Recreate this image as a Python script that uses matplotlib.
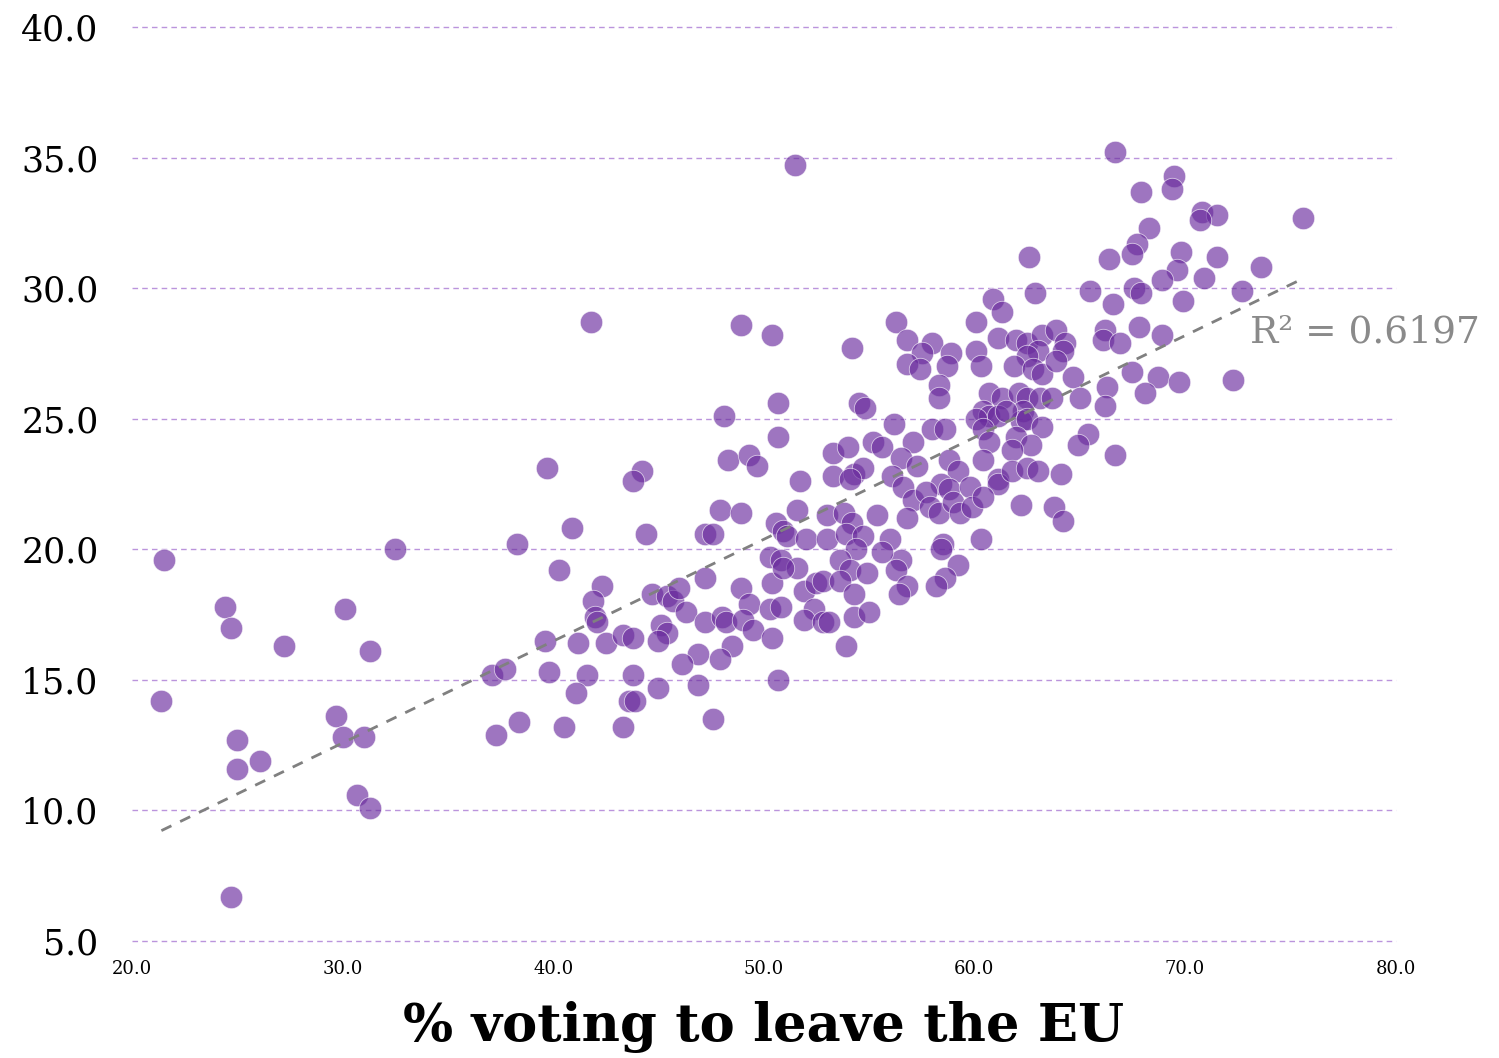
import matplotlib
matplotlib.use("Agg")
import matplotlib.pyplot as plt
import numpy as np

# % voting leave (x) vs indicator (y)
leave_pct = [
    # far left
    21.5, 21.4, 24.4, 24.7, 25.0, 25.0, 26.1, 24.7, 27.2, 30.1, 29.7, 30.0,
    31.0, 31.3, 30.7, 31.3, 32.5,
    # 37 - 48.5
    41.8, 48.1, 48.3, 39.7, 44.2, 43.8, 47.9, 47.2, 47.6, 40.9, 44.4, 38.3,
    40.3, 42.3, 41.9, 42.0, 42.1, 44.7, 45.4, 45.7, 46.0, 46.3, 47.2, 45.1,
    45.4, 45.0, 47.2, 48.0, 48.2, 39.6, 41.2, 42.5, 43.3, 43.8, 48.5, 46.9,
    47.9, 46.1, 37.1, 37.7, 39.8, 41.6, 43.8, 41.1, 45.0, 46.9, 43.6, 43.9,
    37.3, 38.4, 40.5, 43.3, 47.6,
    # 48.5 - 55.5
    48.9, 50.4, 50.7, 50.7, 49.3, 49.7, 48.9, 50.6, 48.9, 49.3, 50.3, 50.4,
    50.3, 49.0, 49.5, 50.4, 50.7, 54.2, 54.5, 54.8, 51.7, 53.3, 54.0, 53.3,
    54.3, 54.7, 55.2, 54.1, 51.6, 50.9, 51.1, 53.0, 53.8, 54.2, 55.4, 52.0,
    53.0, 53.9, 54.7, 54.4, 53.6, 54.1, 54.9, 50.8, 51.6, 50.9, 50.8, 51.9,
    52.5, 52.8, 53.6, 54.3, 52.4, 51.9, 52.8, 53.1, 54.3, 55.0, 53.9, 51.5,
    # 55.5 - 63.5
    62.6, 62.9, 60.9, 61.3, 56.3, 60.1, 56.8, 58.0, 57.5, 58.9, 56.8, 57.4,
    58.7, 60.1, 60.3, 58.3, 58.3, 61.1, 62.0, 62.5, 63.2, 63.0, 62.5, 61.9,
    62.8, 63.2, 60.7, 61.3, 62.1, 62.5, 63.1, 60.4, 60.7, 60.1, 61.1, 62.3,
    62.2, 62.5, 63.2, 60.4, 60.7, 62.0, 62.7, 61.8, 56.2, 58.0, 58.6, 55.6,
    57.1, 56.5, 57.3, 58.8, 60.4, 59.2, 56.1, 56.6, 58.4, 58.8, 59.8, 61.1,
    61.1, 61.8, 62.5, 63.0, 57.1, 57.7, 57.9, 58.3, 56.8, 59.0, 59.3, 59.9,
    60.4, 62.2, 60.3, 58.5, 58.4, 56.0, 56.5, 56.3, 59.2, 58.6, 58.2, 56.8,
    56.4, 55.6, 61.5,
    # 63.5 and up
    66.7, 69.5, 69.4, 67.9, 70.8, 71.5, 70.7, 75.6, 68.3, 67.7, 67.5, 66.4,
    69.8, 69.6, 71.5, 70.9, 73.6, 68.9, 67.6, 67.9, 65.5, 66.6, 72.7, 69.9,
    67.8, 68.9, 66.2, 66.1, 66.9, 63.9, 64.3, 64.2, 63.9, 64.7, 66.3, 67.5,
    68.7, 69.7, 72.3, 68.1, 65.0, 66.2, 63.7, 65.4, 64.9, 66.7, 64.1, 63.8,
    64.2,
]

indicator = [
    19.6, 14.2, 17.8, 17.0, 12.7, 11.6, 11.9, 6.7, 16.3, 17.7, 13.6, 12.8,
    12.8, 16.1, 10.6, 10.1, 20.0,
    28.7, 25.1, 23.4, 23.1, 23.0, 22.6, 21.5, 20.6, 20.6, 20.8, 20.6, 20.2,
    19.2, 18.6, 18.0, 17.4, 17.2, 18.3, 18.2, 18.0, 18.5, 17.6, 18.9, 17.1,
    16.8, 16.5, 17.2, 17.4, 17.2, 16.5, 16.4, 16.4, 16.7, 16.6, 16.3, 16.0,
    15.8, 15.6, 15.2, 15.4, 15.3, 15.2, 15.2, 14.5, 14.7, 14.8, 14.2, 14.2,
    12.9, 13.4, 13.2, 13.2, 13.5,
    28.6, 28.2, 25.6, 24.3, 23.6, 23.2, 21.4, 21.0, 18.5, 17.9, 19.7, 18.7,
    17.7, 17.3, 16.9, 16.6, 15.0, 27.7, 25.6, 25.4, 22.6, 23.7, 23.9, 22.8,
    22.9, 23.1, 24.1, 22.7, 21.5, 20.7, 20.5, 21.3, 21.4, 21.0, 21.3, 20.4,
    20.4, 20.6, 20.5, 20.0, 19.6, 19.2, 19.1, 19.6, 19.3, 19.3, 17.8, 18.4,
    18.7, 18.8, 18.8, 18.3, 17.7, 17.3, 17.2, 17.2, 17.4, 17.6, 16.3, 34.7,
    31.2, 29.8, 29.6, 29.1, 28.7, 28.7, 28.0, 27.9, 27.5, 27.5, 27.1, 26.9,
    27.0, 27.6, 27.0, 26.3, 25.8, 28.1, 28.0, 27.9, 28.2, 27.6, 27.4, 27.0,
    26.9, 26.7, 26.0, 25.8, 26.0, 25.8, 25.8, 25.3, 25.1, 25.0, 25.1, 25.3,
    24.9, 25.0, 24.7, 24.6, 24.1, 24.3, 24.0, 23.8, 24.8, 24.6, 24.6, 23.9,
    24.1, 23.5, 23.2, 23.4, 23.4, 23.0, 22.8, 22.4, 22.5, 22.3, 22.4, 22.7,
    22.5, 23.0, 23.1, 23.0, 21.9, 22.2, 21.6, 21.4, 21.2, 21.8, 21.4, 21.6,
    22.0, 21.7, 20.4, 20.2, 20.0, 20.4, 19.6, 19.2, 19.4, 18.9, 18.6, 18.6,
    18.3, 19.9, 25.3,
    35.2, 34.3, 33.8, 33.7, 32.9, 32.8, 32.6, 32.7, 32.3, 31.7, 31.3, 31.1,
    31.4, 30.7, 31.2, 30.4, 30.8, 30.3, 30.0, 29.8, 29.9, 29.4, 29.9, 29.5,
    28.5, 28.2, 28.4, 28.0, 27.9, 28.4, 27.9, 27.6, 27.2, 26.6, 26.2, 26.8,
    26.6, 26.4, 26.5, 26.0, 25.8, 25.5, 25.8, 24.4, 24.0, 23.6, 22.9, 21.6,
    21.1,
]

y_ticks = [5, 10, 15, 20, 25, 30, 35, 40]
x_ticks = [20, 30, 40, 50, 60, 70, 80]
# linear trend as shown on the chart (fitted on the full data set)
trend_slope = 0.39
trend_intercept = 0.88
r2_label = "R\u00b2 = 0.6197"

x = np.array(leave_pct)
y = np.array(indicator)

fig = plt.figure(figsize=(14.99, 10.58), dpi=100)
ax = fig.add_axes([0.088, 0.1106, 0.843, 0.8639])

ax.scatter(x, y, s=260, color="#6a2c9e", alpha=0.65, edgecolors="white",
           linewidths=0.6, zorder=3)

tx = np.array([x.min(), x.max()])
ax.plot(tx, trend_slope * tx + trend_intercept, color="#808080", lw=2,
        ls=(0, (4, 3.5)), zorder=4)
ax.text(73.1, 28.3, r2_label, fontsize=27, color="#8a8a8a",
        family="DejaVu Serif", va="center", ha="left", clip_on=False)

ax.set_xlim(20, 80)
ax.set_ylim(5, 40)
ax.set_xticks(x_ticks)
ax.set_yticks(y_ticks)
ax.set_xticklabels([f"{v:.1f}" for v in x_ticks], family="DejaVu Serif",
                   fontsize=13)
ax.set_yticklabels([f"{v:.1f}" for v in y_ticks], family="DejaVu Serif",
                   fontsize=25)
ax.tick_params(axis="both", length=0)
ax.tick_params(axis="y", pad=24)
ax.tick_params(axis="x", pad=14)

for s in ax.spines.values():
    s.set_visible(False)
ax.yaxis.grid(True, color="#bb94dc", lw=1, ls=(0, (4, 3)))
for gl in ax.get_ygridlines():
    gl.set_clip_on(False)
ax.set_axisbelow(True)

ax.set_xlabel("% voting to leave the EU", family="DejaVu Serif",
              fontweight="bold", fontsize=38, labelpad=16)

fig.savefig("out.png", dpi=100)
